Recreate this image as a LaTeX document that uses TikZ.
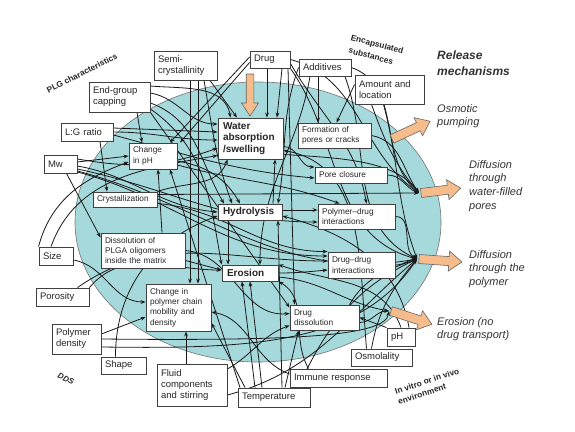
\documentclass[tikz,border=0pt]{standalone}
\usepackage{fontspec}
\setmainfont{Liberation Sans}
\usetikzlibrary{arrows.meta}
\pgfdeclarelayer{back}
\pgfdeclarelayer{lines}
\pgfsetlayers{back,lines,main}
\definecolor{lagoon}{RGB}{166,217,219}
\definecolor{peach}{RGB}{247,188,140}
\newcommand\fbig{\fontsize{9.5}{11}\selectfont}
\newcommand\fsmall{\fontsize{8.3}{10.3}\selectfont}
\newcommand\fbold{\fontsize{10}{11.5}\selectfont\bfseries}
\newcommand\fatarrow[4]{%
  \begin{scope}[shift={(#1,#2)},rotate=#3]
    \draw[fat] (0,4.5) -- ({#4-13},4.5) -- ({#4-13},10) -- (#4,0) -- ({#4-13},-10) -- ({#4-13},-4.5) -- (0,-4.5) -- cycle;
  \end{scope}}
\tikzset{
  box/.style={draw=black!75, line width=0.9pt, fill=white, inner xsep=4pt, inner ysep=1pt, align=left, font=\fbig, text=black!85},
  sbox/.style={box, font=\fsmall},
  bbox/.style={box, font=\fbold, inner xsep=5pt},
  ar/.style={draw=black!90, line width=0.8pt, -{Stealth[length=5pt,width=3.8pt]}},
  fat/.style={fill=peach, draw=black!60, line width=0.6pt, line join=miter},
  rlab/.style={font=\fontsize{11}{13.8}\selectfont\itshape, text=black!80, align=left, anchor=north west, inner sep=0pt},
  tag/.style={font=\fontsize{8.3}{9}\selectfont\bfseries, text=black!85, inner sep=0pt}
}
\begin{document}
\begin{tikzpicture}[x=1pt,y=-1pt]
\useasboundingbox (0,0) rectangle (575,431);
\begin{pgfonlayer}{back}
  \fill[white] (0,0) rectangle (575,431);
  \filldraw[fill=lagoon, draw=black!55, line width=0.6pt] (258,222) ellipse [x radius=183pt, y radius=140pt];
\end{pgfonlayer}

% ---------- nodes ----------
\node[box, minimum width=63pt, text width=55pt, minimum height=29pt] (semi) at (185.5,65.5) {Semi-\\crystallinity};
\node[box, minimum width=40pt, text width=32pt, minimum height=17pt] (drug) at (270,59.5) {Drug};
\node[box, minimum width=61pt, text width=53pt, minimum height=30pt] (egc) at (119.5,97) {End-group\\capping};
\node[box, minimum width=52pt, text width=44pt, minimum height=18pt] (lg) at (87,132) {L:G ratio};
\node[box, minimum width=33pt, text width=25pt, minimum height=18pt] (mw) at (60.5,164) {Mw};
\node[sbox, minimum width=48pt, text width=40pt, minimum height=26pt] (cph) at (153,156) {Change\\in pH};
\node[bbox, minimum width=65pt, text width=55pt, minimum height=41pt] (water) at (250.5,138.5) {Water\\absorption\\/swelling};
\node[sbox, minimum width=64pt, text width=56pt, minimum height=15pt] (cryst) at (125,199.5) {Crystallization};
\node[bbox, minimum width=64pt, text width=54pt, minimum height=16pt] (hydro) at (250,212) {Hydrolysis};
\node[box, minimum width=52pt, text width=44pt, minimum height=17pt] (add) at (325,67.5) {Additives};
\node[box, minimum width=69pt, text width=61pt, minimum height=29pt] (amt) at (389.5,89.5) {Amount and\\location};
\node[sbox, minimum width=73pt, text width=65pt, minimum height=25pt] (form) at (334.5,135.5) {Formation of\\pores or cracks};
\node[sbox, minimum width=72pt, text width=64pt, minimum height=16pt] (pcl) at (351,175) {Pore closure};
\node[sbox, minimum width=77pt, text width=69pt, minimum height=25pt] (pdi) at (356.5,216.5) {Polymer--drug\\interactions};
\node[sbox, minimum width=67pt, text width=59pt, minimum height=26pt] (ddi) at (361.5,265) {Drug--drug\\interactions};
\node[sbox, minimum width=69pt, text width=61pt, minimum height=25pt] (ddis) at (324.5,317.5) {Drug\\dissolution};
\node[box, minimum width=28pt, text width=20pt, minimum height=18pt] (ph) at (401,337) {pH};
\node[box, minimum width=61pt, text width=53pt, minimum height=17pt] (osm) at (381.5,357.5) {Osmolality};
\node[box, minimum width=97pt, text width=89pt, minimum height=18pt] (imm) at (338.5,378) {Immune response};
\node[box, minimum width=72pt, text width=64pt, minimum height=19pt] (temp) at (274,397.5) {Temperature};
\node[box, minimum width=34pt, text width=26pt, minimum height=18pt] (size) at (56,256) {Size};
\node[sbox, minimum width=84pt, text width=76pt, minimum height=35pt] (dis) at (143,250.5) {Dissolution of\\PLGA oligomers\\inside the matrix};
\node[bbox, minimum width=56pt, text width=46pt, minimum height=16pt] (ero) at (250,273) {Erosion};
\node[box, minimum width=53pt, text width=45pt, minimum height=18pt] (por) at (62.5,297) {Porosity};
\node[sbox, minimum width=65pt, text width=57pt, minimum height=47pt] (cpc) at (178.5,307.5) {Change in\\polymer chain\\mobility and\\density};
\node[box, minimum width=49pt, text width=41pt, minimum height=30pt] (pden) at (76.5,339) {Polymer\\density};
\node[box, minimum width=45pt, text width=37pt, minimum height=17pt] (shape) at (123.5,365.5) {Shape};
\node[box, minimum width=70pt, text width=62pt, minimum height=42pt] (fluid) at (192,385) {Fluid\\components\\and stirring};

\coordinate (wf) at (419,193);
\coordinate (tp) at (417,259);
\coordinate (er) at (389,311);

% ---------- connectors ----------
\begin{pgfonlayer}{lines}
\draw[ar] ([xshift=24.5pt]semi.south) -- ([xshift=-13.5pt]water.north);
\draw[ar] ([xshift=4.5pt]semi.south) -- ([xshift=11.5pt]cpc.north);
\draw[ar] ([xshift=12.5pt]semi.south) -- ([xshift=19.5pt]cpc.north);
\draw[ar] ([xshift=18.5pt]semi.south) to[out=-80,in=110] ([xshift=-18pt]hydro.north);
\draw[ar] ([xshift=-3pt]drug.south) -- ([xshift=16.5pt]water.north);
\draw[ar] ([xshift=12pt]drug.south) -- ([xshift=26.5pt]water.north);
\draw[ar] ([yshift=2.5pt]drug.west) -- ([xshift=17pt]cph.north);
\draw[ar] ([yshift=-3pt]drug.west) -- ([xshift=27pt]cph.north);
\draw[ar] (drug.east) to[out=-15,in=145] (wf);
\draw[ar] (drug.south east) to[out=-55,in=165] (tp);
\draw[ar] ([xshift=18pt]drug.south) -- ([xshift=-30pt]ddis.north);
\draw[ar] ([yshift=-4pt]drug.east) to[out=-60,in=100] ([xshift=10pt]pdi.north);
\draw[ar] (add.west) to[out=250,in=80] ([xshift=28pt]hydro.north);
\draw[ar] ([xshift=-7pt]add.south) -- ([xshift=-16.5pt]form.north);
\draw[ar] (add.east) to[out=-20,in=140] (wf);
\draw[ar] ([xshift=20pt]add.south) to[out=-70,in=155] (tp);
\draw[ar] ([xshift=-15pt]add.south) to[out=-100,in=90] ([xshift=10pt]ero.north);
\draw[ar] ([yshift=5pt]amt.west) -- ([xshift=2pt]form.north);
\draw[ar] ([xshift=-18pt]amt.south) to[out=-70,in=130] (wf);
\draw[ar] ([xshift=-6pt]amt.south) to[out=-75,in=110] (tp);
\draw[ar] ([yshift=11pt]egc.east) to[out=-5,in=100] ([xshift=-20pt]water.north);
\draw[ar] ([yshift=4pt]egc.east) to[out=-10,in=180] ([yshift=14.5pt]water.west);
\draw[ar] ([xshift=17.5pt]egc.south) -- ([xshift=-11pt]cph.north);
\draw[ar] ([yshift=-6pt]egc.east) to[out=-20,in=120] ([xshift=-26pt]hydro.north);
\draw[ar] ([yshift=-12pt]egc.east) to[out=-35,in=100] (ero.north west);
\draw[ar] (egc.south east) -- ([yshift=10pt]ddis.west);
\draw[ar] ([yshift=4pt]lg.east) -- ([yshift=6.5pt]water.west);
\draw[ar] (lg.east) to[out=0,in=180] ([yshift=-1.5pt]water.west);
\draw[ar] ([xshift=13pt]lg.south) -- ([xshift=-18pt]cryst.north);
\draw[ar] ([yshift=-3pt]lg.east) to[out=-15,in=175] ([yshift=-3pt]pcl.west);
\draw[ar] ([yshift=2pt]mw.east) -- (cph.west);
\draw[ar] ([yshift=5pt]mw.east) to[out=-10,in=200] ([yshift=-9.5pt]water.west);
\draw[ar] ([xshift=6pt]mw.south) -- ([yshift=13pt]dis.west);
\draw[ar] ([yshift=-2pt]mw.east) to[out=-10,in=175] (hydro.west);
\draw[ar] ([yshift=-5pt]mw.east) to[out=-12,in=180] ([yshift=-5.5pt]pdi.west);
\draw[ar] ([yshift=-7pt]mw.east) to[out=-15,in=190] (tp);
\draw[ar] ([yshift=-8pt]mw.east) to[out=-15,in=180] ([yshift=9pt]ddi.west);
\draw[ar] (size.north west) to[out=75,in=200] ([yshift=-6pt]cph.west);
\draw[ar] ([xshift=-5pt]size.north) to[out=70,in=190] ([yshift=-17pt]water.west);
\draw[ar] ([yshift=-4pt]size.east) to[out=-10,in=180] ([yshift=5.5pt]cpc.west);
\draw[ar] ([yshift=5pt]pden.east) -- ([yshift=-9.5pt]cpc.west);
\draw[ar] (por.north east) to[out=50,in=180] ([yshift=3pt]ero.west);
\draw[ar] ([xshift=15pt]por.north) to[out=35,in=180] ([yshift=4pt]ddi.west);
\draw[ar] ([xshift=-8pt]shape.north) to[out=90,in=200] ([yshift=-4pt]hydro.west);
\draw[ar] (pden.east) .. controls (300,341) and (385,336) .. (er);
\draw[ar] ([yshift=-8pt]pden.east) .. controls (250,349) and (360,345) .. (tp);
\draw[ar] ([xshift=-6pt]fluid.north) -- ([xshift=7.5pt]cpc.south);
\draw[ar] ([yshift=16pt]fluid.east) to[out=30,in=200] ([yshift=-8pt]ddis.west);
\draw[ar] ([yshift=-10pt]fluid.east) to[out=15,in=220] (tp);
\draw[ar] ([xshift=-19pt]temp.north) -- ([xshift=-8pt]ero.south);
\draw[ar] ([xshift=-12pt]temp.north) -- (ero.south);
\draw[ar] ([xshift=11pt]temp.north) -- ([xshift=-26pt]ddis.south);
\draw[ar] ([xshift=-29pt]temp.north) -- ([yshift=-15.5pt]cpc.east);
\draw[ar] ([xshift=8pt]temp.north) -- ([xshift=28pt]hydro.south);
\draw[ar] ([xshift=24pt]temp.north) to[out=65,in=205] (tp);
\draw[ar] ([xshift=-34pt]temp.north) -- ([xshift=17pt]cph.south);
\draw[ar] ([xshift=19pt]dis.north) -- ([xshift=5pt]cph.south);
\draw[ar] ([yshift=4pt]imm.west) to[out=160,in=-10] ([yshift=-4.5pt]cpc.east);
\draw[ar] ([xshift=-30pt]imm.north) to[out=120,in=-30] (ero.south east);
\draw[ar] (ph.north west) -- (ddis.east);
\draw[ar] (ph.north) to[out=110,in=-20] (ero.north east);
\draw[ar] ([xshift=8pt]ph.north) to[out=100,in=-15] ([yshift=-4pt]hydro.east);
\draw[ar] ([xshift=-10pt]osm.north) to[out=80,in=230] (tp);
\draw[ar] ([xshift=-15pt]osm.north) to[out=95,in=-10] ([yshift=-12pt]water.east);
\draw[ar] ([xshift=23pt]hydro.north) -- ([xshift=24.5pt]water.south);
\draw[ar] (cryst.north east) to[out=20,in=-110] ([xshift=-23pt]water.south);
\draw[ar] ([yshift=-8pt]water.east) to[out=0,in=180] ([yshift=8pt]pcl.west);
\draw[ar] ([yshift=-16pt]water.east) .. controls (340,158) and (395,160) .. (wf);
\draw[ar] ([yshift=2pt]hydro.east) -- ([yshift=6.5pt]pdi.west);
\draw[ar] ([xshift=-22pt]hydro.south) -- ([xshift=-22pt]ero.north);
\draw[ar] ([yshift=-5pt]cph.east) to[out=-10,in=120] ([xshift=-10pt]hydro.north);
\draw[ar] ([yshift=-9pt]cph.east) to[out=-15,in=160] ([xshift=-17pt]pdi.north);
\draw[ar] ([yshift=-10pt]dis.east) -- ([yshift=3pt]ero.west);
\draw[ar] (dis.east) to[out=-5,in=185] ([yshift=4pt]ddis.west);
\draw[ar] (ero.east) to[out=0,in=185] ([yshift=-5pt]ddi.west);
\draw[ar] ([yshift=-4pt]ero.east) to[out=-5,in=170] (er);
\draw[ar] (pcl.east) to[out=0,in=160] (wf);
\draw[ar] (form.east) to[out=-10,in=125] (wf);
\draw[ar] (pdi.east) to[out=0,in=150] (tp);
\draw[ar] (ddi.east) to[out=0,in=185] (tp);
\draw[ar] ([xshift=25pt]ddis.north) to[out=60,in=200] (tp);
\draw[ar] ([yshift=-5pt]ddis.east) to[out=0,in=180] (er);
\draw[ar] ([yshift=5pt]cryst.east) -- (wf);
\draw[ar] ([yshift=-4pt]cryst.east) to[out=-5,in=180] (ddi.north west);
\end{pgfonlayer}

% ---------- release arrows ----------
\fatarrow{392}{139}{25}{42}
\fatarrow{421}{193}{7}{40}
\fatarrow{419}{259}{-4}{43}
\fatarrow{391}{311}{-18}{43}
\begin{scope}[shift={(250,74)},rotate=-90]
  \draw[fat] (0,3.8) -- (29,3.8) -- (29,8.5) -- (42,0) -- (29,-8.5) -- (29,-3.8) -- (0,-3.8) -- cycle;
\end{scope}

% ---------- labels ----------
\node[rlab, font=\fontsize{12}{15.5}\selectfont\bfseries\itshape] (rel) at (437,51) {Release\\mechanisms};
\node[rlab] (osmp) at (437,104) {Osmotic\\pumping};
\node[rlab] (dwf) at (469,160) {Diffusion\\through\\water-filled\\pores};
\node[rlab] (dtp) at (469,250) {Diffusion\\through the\\polymer};
\node[rlab] (ent) at (437,317) {Erosion (no\\drug transport)};
\node[tag, rotate=27] (plg) at (82,73) {PLG characteristics};
\node[tag, rotate=-15] (enc1) at (377,45) {Encapsulated};
\node[tag, rotate=-15] (enc2) at (371,56) {substances};
\node[tag, rotate=-25, font=\fontsize{8}{9}\selectfont\bfseries\itshape] (dds) at (66,379) {DDS};
\node[tag, rotate=18] (env1) at (427,381) {In vitro or in vivo};
\node[tag, rotate=18] (env2) at (422,394) {environment};
\end{tikzpicture}
\end{document}
